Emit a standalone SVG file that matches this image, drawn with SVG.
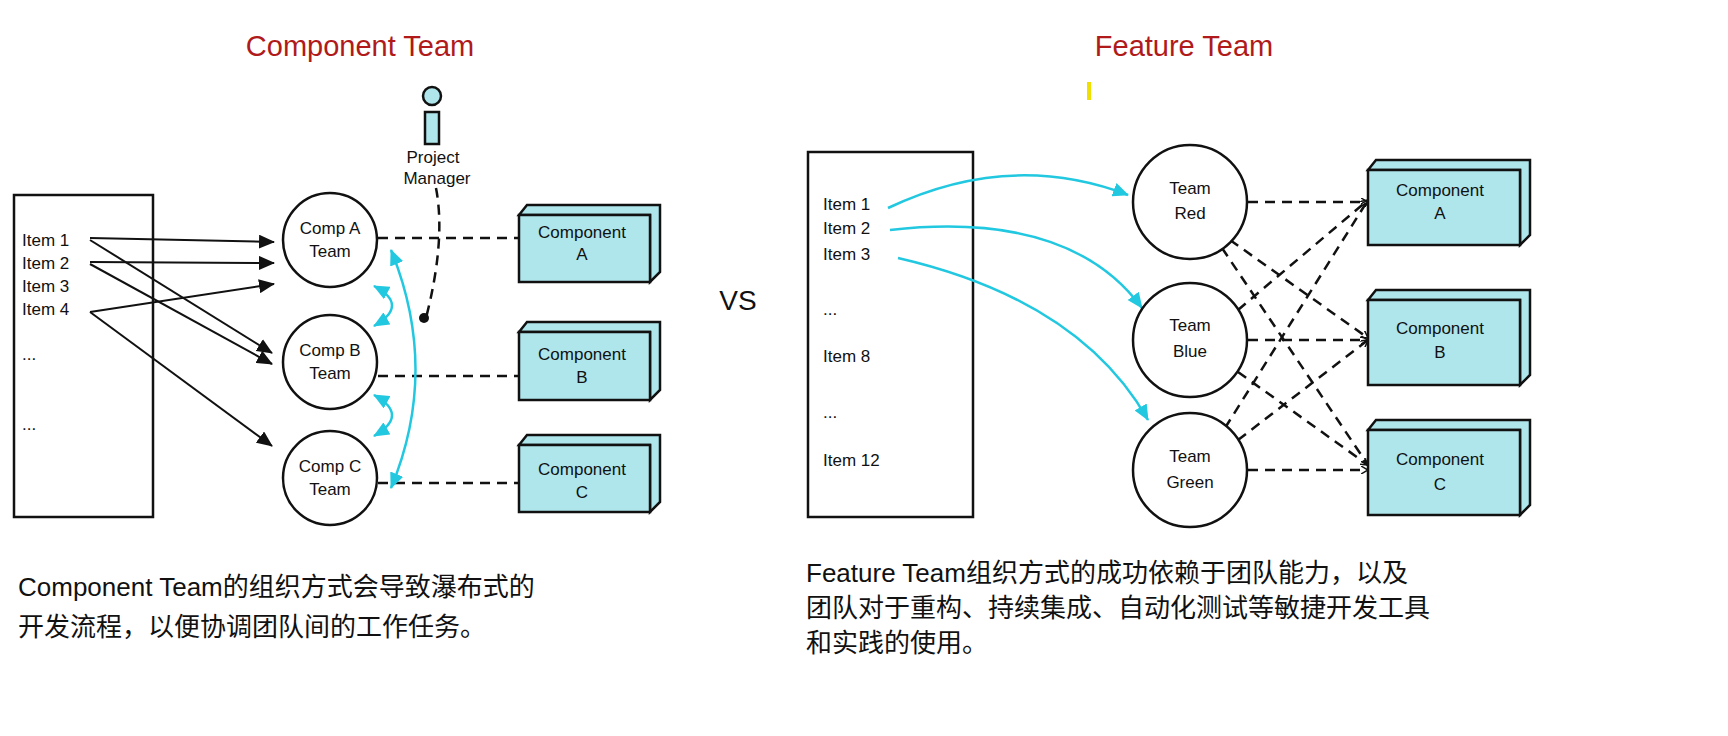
<svg xmlns="http://www.w3.org/2000/svg" width="1728" height="736" viewBox="0 0 1728 736">
<defs>
<style>
.t{font-family:"Liberation Sans",Arial,sans-serif;font-size:17px;fill:#111}
.c{font-family:"Liberation Sans",Arial,sans-serif;font-size:17px;fill:#111;text-anchor:middle}
.ttl{font-family:"Liberation Sans",Arial,sans-serif;font-size:29px;fill:#b01a1a;text-anchor:middle}
.big{font-family:"Liberation Sans","Noto Sans CJK SC",sans-serif;font-size:26px;fill:#111}
.box{fill:#fff;stroke:#111;stroke-width:2.5}
.circ{fill:#fff;stroke:#111;stroke-width:2.5}
.comp{fill:#aee6ec;stroke:#111;stroke-width:2.5}
.dash{stroke:#111;stroke-width:2.5;fill:none;stroke-dasharray:10 7}
.blk{stroke:#111;stroke-width:2;fill:none;marker-end:url(#ab)}
.cy{stroke:#22c8e0;stroke-width:2.5;fill:none}
</style>
<marker id="ab" markerWidth="16" markerHeight="14" refX="15" refY="7" orient="auto" markerUnits="userSpaceOnUse" viewBox="0 0 16 14"><path d="M0,0 L16,7 L0,14 z" fill="#111"/></marker>
<marker id="ac" markerWidth="16" markerHeight="14" refX="15" refY="7" orient="auto" markerUnits="userSpaceOnUse"><path d="M0,0 L16,7 L0,14 z" fill="#22c8e0"/></marker>
<marker id="acs" markerWidth="16" markerHeight="14" refX="1" refY="7" orient="auto" markerUnits="userSpaceOnUse"><path d="M16,0 L0,7 L16,14 z" fill="#22c8e0"/></marker>
<marker id="sm" markerWidth="8" markerHeight="8" refX="7" refY="4" orient="auto" markerUnits="userSpaceOnUse"><path d="M0,0 L7,4 L0,8" fill="none" stroke="#111" stroke-width="1.5"/></marker>
</defs>
<rect width="1728" height="736" fill="#fff"/>
<text class="ttl" x="360" y="56">Component Team</text>
<text class="ttl" x="1184" y="56">Feature Team</text>
<rect x="1087" y="82" width="4" height="18" fill="#f0e000"/>
<text x="738" y="310" font-family="Liberation Sans,Arial,sans-serif" font-size="28" fill="#111" text-anchor="middle">VS</text>

<g id="list-left">
<rect class="box" x="14" y="195" width="139" height="322"/>
<text class="t" x="22" y="246">Item 1</text>
<text class="t" x="22" y="269">Item 2</text>
<text class="t" x="22" y="292">Item 3</text>
<text class="t" x="22" y="315">Item 4</text>
<text class="t" x="22" y="360">...</text>
<text class="t" x="22" y="430">...</text>
</g>
<g id="list-right">
<rect class="box" x="808" y="152" width="165" height="365"/>
<text class="t" x="823" y="210">Item 1</text>
<text class="t" x="823" y="234">Item 2</text>
<text class="t" x="823" y="260">Item 3</text>
<text class="t" x="823" y="315">...</text>
<text class="t" x="823" y="362">Item 8</text>
<text class="t" x="823" y="418">...</text>
<text class="t" x="823" y="466">Item 12</text>
</g>

<g id="connectors">
<line class="blk" x1="90" y1="238" x2="274" y2="242"/>
<line class="blk" x1="90" y1="262" x2="274" y2="263"/>
<line class="blk" x1="90" y1="312" x2="274" y2="284"/>
<line class="blk" x1="90" y1="240" x2="272" y2="353"/>
<line class="blk" x1="90" y1="264" x2="272" y2="364"/>
<line class="blk" x1="90" y1="312" x2="272" y2="446"/>
<line class="dash" x1="378" y1="238" x2="519" y2="238"/>
<line class="dash" x1="378" y1="376" x2="519" y2="376"/>
<line class="dash" x1="378" y1="483" x2="519" y2="483"/>
<path class="dash" d="M436,188 Q446,240 426,318"/>
<circle cx="424" cy="318" r="5" fill="#111"/>
<path class="cy" d="M391,488 Q440,370 391,250" marker-start="url(#acs)" marker-end="url(#ac)"/>
<path class="cy" d="M374,286 Q410,305 374,326" marker-start="url(#acs)" marker-end="url(#ac)"/>
<path class="cy" d="M374,395 Q410,415 374,436" marker-start="url(#acs)" marker-end="url(#ac)"/>
<path class="cy" d="M888,208 Q1010,150 1128,195" marker-end="url(#ac)"/>
<path class="cy" d="M890,230 Q1070,210 1142,308" marker-end="url(#ac)"/>
<path class="cy" d="M898,258 Q1080,300 1148,420" marker-end="url(#ac)"/>
<line class="dash" x1="1248" y1="202" x2="1368" y2="202" marker-end="url(#sm)"/>
<line class="dash" x1="1230" y1="240" x2="1368" y2="338" marker-end="url(#sm)"/>
<line class="dash" x1="1222" y1="248" x2="1368" y2="465" marker-end="url(#sm)"/>
<line class="dash" x1="1248" y1="340" x2="1368" y2="340" marker-end="url(#sm)"/>
<line class="dash" x1="1238" y1="310" x2="1368" y2="200" marker-end="url(#sm)"/>
<line class="dash" x1="1238" y1="372" x2="1368" y2="465" marker-end="url(#sm)"/>
<line class="dash" x1="1248" y1="470" x2="1368" y2="470" marker-end="url(#sm)"/>
<line class="dash" x1="1225" y1="428" x2="1368" y2="200" marker-end="url(#sm)"/>
<line class="dash" x1="1238" y1="440" x2="1368" y2="340" marker-end="url(#sm)"/>
</g>

<g id="comp-a-team"><circle class="circ" cx="330" cy="240" r="47"/><text class="c" x="330" y="234">Comp A</text><text class="c" x="330" y="257">Team</text></g>
<g id="comp-b-team"><circle class="circ" cx="330" cy="362" r="47"/><text class="c" x="330" y="356">Comp B</text><text class="c" x="330" y="379">Team</text></g>
<g id="comp-c-team"><circle class="circ" cx="330" cy="478" r="47"/><text class="c" x="330" y="472">Comp C</text><text class="c" x="330" y="495">Team</text></g>
<g id="project-manager">
<circle cx="432" cy="96" r="9" fill="#aee6ec" stroke="#111" stroke-width="2.5"/>
<rect x="425" y="112" width="14" height="32" fill="#aee6ec" stroke="#111" stroke-width="2.5"/>
<text class="c" x="433" y="163" font-size="14">Project</text>
<text class="c" x="437" y="184" font-size="14">Manager</text>
</g>
<g id="component-a-l"><path class="comp" d="M519,215 L527,205 L660,205 L660,272 L650,282 L650,215 Z"/><rect class="comp" x="519" y="215" width="131" height="67"/><text class="c" x="582" y="238">Component</text><text class="c" x="582" y="260">A</text></g>
<g id="component-b-l"><path class="comp" d="M519,332 L527,322 L660,322 L660,390 L650,400 L650,332 Z"/><rect class="comp" x="519" y="332" width="131" height="68"/><text class="c" x="582" y="360">Component</text><text class="c" x="582" y="383">B</text></g>
<g id="component-c-l"><path class="comp" d="M519,445 L527,435 L660,435 L660,502 L650,512 L650,445 Z"/><rect class="comp" x="519" y="445" width="131" height="67"/><text class="c" x="582" y="475">Component</text><text class="c" x="582" y="498">C</text></g>

<g id="team-red"><circle class="circ" cx="1190" cy="202" r="57"/><text class="c" x="1190" y="194">Team</text><text class="c" x="1190" y="219">Red</text></g>
<g id="team-blue"><circle class="circ" cx="1190" cy="340" r="57"/><text class="c" x="1190" y="331">Team</text><text class="c" x="1190" y="357">Blue</text></g>
<g id="team-green"><circle class="circ" cx="1190" cy="470" r="57"/><text class="c" x="1190" y="462">Team</text><text class="c" x="1190" y="488">Green</text></g>
<g id="component-a-r"><path class="comp" d="M1368,170 L1376,160 L1530,160 L1530,235 L1520,245 L1520,170 Z"/><rect class="comp" x="1368" y="170" width="152" height="75"/><text class="c" x="1440" y="196">Component</text><text class="c" x="1440" y="219">A</text></g>
<g id="component-b-r"><path class="comp" d="M1368,300 L1376,290 L1530,290 L1530,375 L1520,385 L1520,300 Z"/><rect class="comp" x="1368" y="300" width="152" height="85"/><text class="c" x="1440" y="334">Component</text><text class="c" x="1440" y="358">B</text></g>
<g id="component-c-r"><path class="comp" d="M1368,430 L1376,420 L1530,420 L1530,505 L1520,515 L1520,430 Z"/><rect class="comp" x="1368" y="430" width="152" height="85"/><text class="c" x="1440" y="465">Component</text><text class="c" x="1440" y="490">C</text></g>

<text class="big" x="18" y="596">Component Team的组织方式会导致瀑布式的</text>
<text class="big" x="18" y="636">开发流程，以便协调团队间的工作任务。</text>
<text class="big" x="806" y="582">Feature Team组织方式的成功依赖于团队能力，以及</text>
<text class="big" x="806" y="617">团队对于重构、持续集成、自动化测试等敏捷开发工具</text>
<text class="big" x="806" y="652">和实践的使用。</text>
</svg>
